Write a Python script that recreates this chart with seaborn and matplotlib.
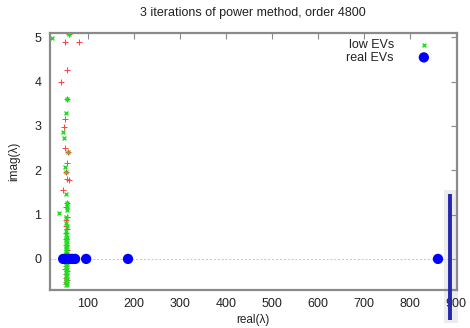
import matplotlib
matplotlib.use("Agg")
import matplotlib.pyplot as plt
import seaborn as sns
import pandas as pd
from matplotlib.patches import Rectangle

# Ritz values after three power-method iterations (real part, imaginary part)
ritz_re = [50, 80, 59, 54, 41, 54, 50, 48, 50, 57, 54, 52, 54, 59, 46, 54, 53, 54,
           52, 53, 54, 52, 53, 52, 54, 53, 52, 53, 51, 54, 52, 53, 54, 52, 53]
ritz_im = [4.90, 4.90, 5.07, 4.26, 3.99, 3.60, 3.15, 2.97, 2.50, 2.41, 2.16, 1.96, 1.80,
           1.78, 1.55, 1.26, 1.17, 0.95, 0.88, 0.75, 0.68, 0.58, 0.45, 0.32, 0.20, 0.10,
           -0.08, -0.15, -0.22, -0.28, -0.35, -0.42, -0.48, -0.53, -0.56]

# low eigenvalues
low_re = [22, 59, 54, 52, 46, 48, 57, 50, 52, 52, 54, 54, 54, 37,
          53, 52, 54, 53, 52, 54, 53, 52, 54, 53, 52, 54, 53, 52, 54, 53, 52,
          54, 53, 52, 54, 53, 52, 54, 53, 52, 54, 53, 52, 54, 53, 52, 54, 53]
low_im = [4.98, 5.07, 3.60, 3.29, 2.86, 2.72, 2.41, 2.07, 1.96, 1.46, 1.26, 1.17, 1.10, 1.04,
          0.95, 0.82, 0.74, 0.62, 0.55, 0.50, 0.46, 0.42, 0.38, 0.34, 0.30, 0.26, 0.22, 0.18,
          0.14, 0.10, 0.06, 0.02, -0.02, -0.06, -0.10, -0.14, -0.18, -0.22, -0.26, -0.30,
          -0.34, -0.38, -0.42, -0.46, -0.50, -0.53, -0.56, -0.58]

# real eigenvalues
real_re = [46, 50, 54, 58, 61, 66, 72, 96, 187, 861]
real_im = [0, 0, 0, 0, 0, 0, 0, 0, 0, 0]

# largest eigenvalue estimate and its band
bar_re = 887
bar_lo, bar_hi = -1.38, 1.47
band_lo, band_hi = 874, 905
band_bottom, band_top = -1.45, 1.56

sns.set_theme(style="white")
plt.rcParams["font.family"] = ["Liberation Sans", "DejaVu Sans"]

fig = plt.figure(figsize=(4.7, 3.28), dpi=100)
ax = fig.add_axes([0.106, 0.116, 0.866, 0.784])

ritz = pd.DataFrame({"re": ritz_re, "im": ritz_im})
low = pd.DataFrame({"re": low_re, "im": low_im})
real = pd.DataFrame({"re": real_re, "im": real_im})

ax.axhline(0, color="#ff99ff", lw=0.7, ls=(0, (2, 2)), zorder=1)
ax.add_patch(Rectangle((band_lo, band_bottom), band_hi - band_lo, band_top - band_bottom,
                       facecolor="#ececec", edgecolor="none", clip_on=False, zorder=0.5))
ax.plot([bar_re, bar_re], [bar_lo, bar_hi], color="#2626b0", lw=2.8,
        solid_capstyle="butt", clip_on=False, zorder=3)

sns.scatterplot(data=ritz, x="re", y="im", marker="+", s=14, color="#ff4040",
                linewidth=0.7, ax=ax, zorder=4)
sns.scatterplot(data=low, x="re", y="im", marker="x", s=8, color="#22dd22",
                linewidth=1.0, ax=ax, zorder=5, label="low EVs")
sns.scatterplot(data=real, x="re", y="im", marker="o", s=55, color="#0000ff",
                edgecolor="none", ax=ax, zorder=6, label="real EVs")

ax.set_xlim(17, 902)
ax.set_ylim(-0.70, 5.10)
ax.set_xticks([100, 200, 300, 400, 500, 600, 700, 800, 900])
ax.set_yticks([0, 1, 2, 3, 4, 5])

for s in ax.spines.values():
    s.set_color("#8a8a8a")
    s.set_linewidth(1.6)
ax.tick_params(direction="in", length=4, width=0.8, color="#8a8a8a",
               top=True, right=True, labelsize=9, labelcolor="#222222", pad=6)

ax.set_xlabel("real(λ)", fontsize=8.5, color="#222222", labelpad=3)
ax.set_ylabel("imag(λ)", fontsize=8.5, color="#222222", labelpad=10)
ax.set_title("3 iterations of power method, order 4800", fontsize=9,
             color="#222222", pad=12)

leg = ax.legend(loc="upper right", markerfirst=False, frameon=False, fontsize=9,
                handletextpad=1.4, labelspacing=0.05, borderaxespad=0.1,
                bbox_to_anchor=(0.965, 1.0))
for t in leg.get_texts():
    t.set_color("#222222")

fig.savefig("out.png", dpi=100)
